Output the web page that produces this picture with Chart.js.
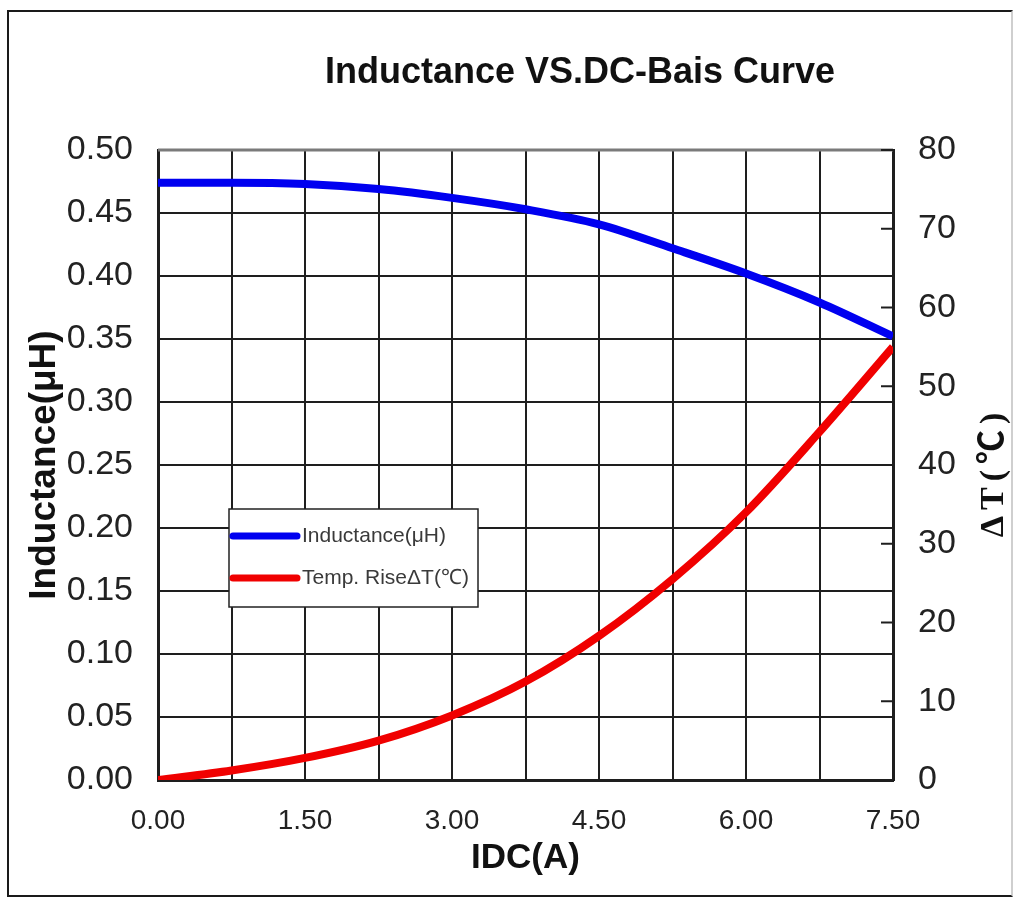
<!DOCTYPE html>
<html>
<head>
<meta charset="utf-8">
<script src="https://cdn.jsdelivr.net/npm/chart.js@4.4.1/dist/chart.umd.min.js"></script>
<style>
  html, body { margin: 0; padding: 0; background: #fff; }
  #frame { position: absolute; left: 7px; top: 10px; width: 1002px; height: 883px;
           border: 2px solid #1a1a1a; border-right-color: #cfcfcf; }
  canvas { position: absolute; left: 0; top: 0; }
</style>
</head>
<body>
<div id="frame"></div>
<canvas id="chart" width="1016" height="898"></canvas>
<script>
// IDC (A) read at each vertical grid line
const idc = [0, 0.75, 1.5, 2.25, 3.0, 3.75, 4.5, 5.25, 6.0, 6.75, 7.5];
// Inductance (uH), left axis
const inductance = [0.474, 0.474, 0.473, 0.469, 0.462, 0.453, 0.441, 0.422, 0.402, 0.379, 0.352];
// Temperature rise dT (C), right axis
const tempRise = [0, 1.2, 2.8, 5.0, 8.2, 12.5, 18.3, 25.5, 34.0, 44.2, 55.0];

const seriesNames = ['Inductance(μH)', 'Temp. RiseΔT(℃)'];
const chartTitle = 'Inductance VS.DC-Bais Curve';
const xTitle = 'IDC(A)';
const yTitle = 'Inductance(μH)';
const y1Title = 'ΔT(℃)';

const ink = '#1e1e1e';
const sans = '"Liberation Sans", Arial, sans-serif';

const decorations = {
    id: 'decorations',
    afterDraw(chart) {
        const ctx = chart.ctx;
        const area = chart.chartArea;
        const y1 = chart.scales.y1;
        ctx.save();

        // top frame (grey in the original)
        ctx.strokeStyle = '#7a7a7a';
        ctx.lineWidth = 3;
        ctx.beginPath();
        ctx.moveTo(area.left, area.top);
        ctx.lineTo(area.right, area.top);
        ctx.stroke();

        // short inward ticks on the right axis
        ctx.strokeStyle = ink;
        ctx.lineWidth = 2;
        y1.ticks.forEach((t, i) => {
            const py = y1.getPixelForTick(i);
            ctx.beginPath();
            ctx.moveTo(area.right - 12, py);
            ctx.lineTo(area.right, py);
            ctx.stroke();
        });

        // chart title
        ctx.fillStyle = '#111';
        ctx.font = 'bold 36px ' + sans;
        ctx.textAlign = 'center';
        ctx.textBaseline = 'middle';
        ctx.fillText(chartTitle, 580, 73);

        // right axis title, reads bottom to top
        ctx.save();
        ctx.translate(994, 475);
        ctx.rotate(-Math.PI / 2);
        ctx.font = 'bold 34px "Liberation Serif", "Noto Sans CJK SC", serif';
        ctx.letterSpacing = '6px';
        ctx.fillText(y1Title, 3, 0);
        ctx.restore();

        // legend box
        const lx = 229, ly = 509, lw = 249, lh = 98;
        ctx.fillStyle = '#fff';
        ctx.fillRect(lx, ly, lw, lh);
        ctx.strokeStyle = '#222';
        ctx.lineWidth = 1.5;
        ctx.strokeRect(lx, ly, lw, lh);
        chart.data.datasets.forEach((ds, i) => {
            const cy = ly + 27 + i * 42;
            ctx.strokeStyle = ds.borderColor;
            ctx.lineWidth = 7;
            ctx.lineCap = 'round';
            ctx.beginPath();
            ctx.moveTo(lx + 4, cy);
            ctx.lineTo(lx + 68, cy);
            ctx.stroke();
            ctx.fillStyle = '#3a3a3a';
            ctx.font = '21px ' + sans;
            ctx.textAlign = 'left';
            ctx.textBaseline = 'middle';
            ctx.fillText(ds.label, lx + 73, cy);
        });
        ctx.restore();
    }
};

new Chart(document.getElementById('chart'), {
    type: 'line',
    data: {
        datasets: [
            {
                label: seriesNames[0],
                data: idc.map((x, i) => ({ x: x, y: inductance[i] })),
                yAxisID: 'y',
                borderColor: '#0000f0',
                borderWidth: 8,
                pointRadius: 0,
                cubicInterpolationMode: 'monotone',
                fill: false
            },
            {
                label: seriesNames[1],
                data: idc.map((x, i) => ({ x: x, y: tempRise[i] })),
                yAxisID: 'y1',
                borderColor: '#f00000',
                borderWidth: 8,
                pointRadius: 0,
                cubicInterpolationMode: 'monotone',
                fill: false
            }
        ]
    },
    options: {
        responsive: false,
        devicePixelRatio: 1,
        animation: false,
        layout: { padding: { top: 150, left: 0, right: 0, bottom: 0 } },
        plugins: { legend: { display: false }, title: { display: false }, tooltip: { enabled: false } },
        scales: {
            x: {
                type: 'linear',
                min: 0, max: 7.5,
                afterFit: s => { s.height = 118; },
                grid: { color: ink, lineWidth: 2, drawTicks: false },
                border: { color: ink, width: 3 },
                ticks: {
                    stepSize: 0.75, autoSkip: false, maxRotation: 0, padding: 24,
                    color: '#222', font: { family: sans, size: 28 },
                    callback: (v, i) => i % 2 === 0 ? v.toFixed(2) : ''
                },
                title: { display: true, text: xTitle, color: '#111', padding: { bottom: 19 },
                         font: { family: sans, size: 35, weight: 'bold' } }
            },
            y: {
                position: 'left',
                min: 0, max: 0.5,
                afterFit: s => { s.width = 158; },
                grid: { color: ink, lineWidth: 2, drawTicks: false },
                border: { color: ink, width: 3 },
                ticks: {
                    stepSize: 0.05, padding: 25, color: '#222',
                    font: { family: sans, size: 34 },
                    callback: v => v.toFixed(2)
                },
                title: { display: true, text: yTitle, color: '#111', padding: { top: 23 },
                         font: { family: sans, size: 37, weight: 'bold' } }
            },
            y1: {
                position: 'right',
                min: 0, max: 80,
                afterFit: s => { s.width = 123; },
                grid: { drawOnChartArea: false, drawTicks: false },
                border: { color: ink, width: 3 },
                ticks: { stepSize: 10, padding: 25, color: '#222', font: { family: sans, size: 34 } }
            }
        }
    },
    plugins: [decorations]
});
</script>
</body>
</html>
